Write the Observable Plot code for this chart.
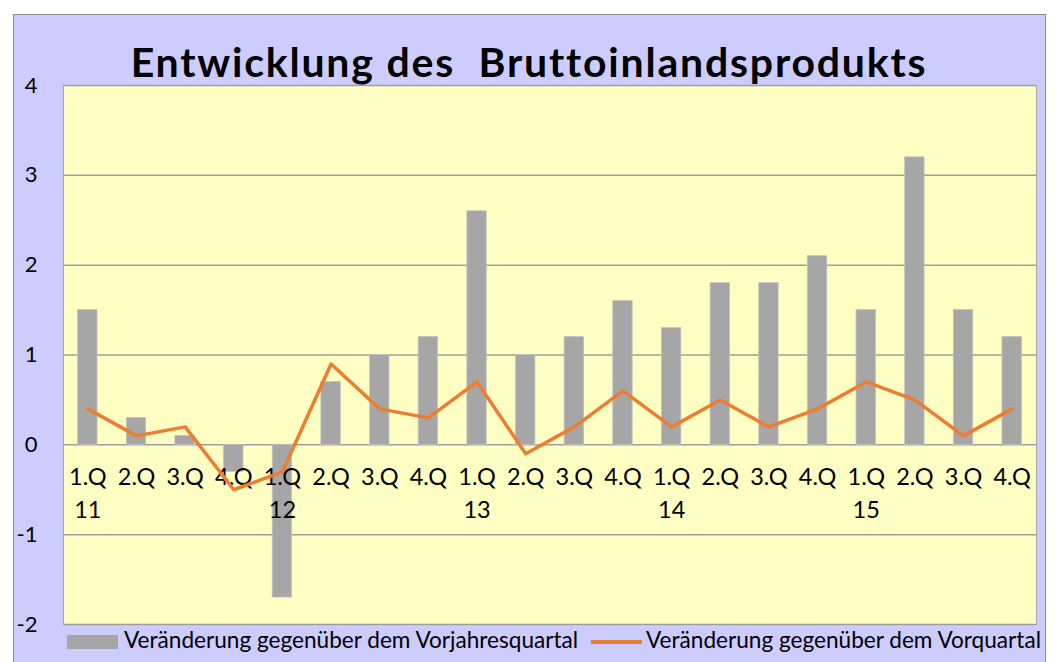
<!DOCTYPE html>
<html>
<head>
<meta charset="utf-8">
<script src="https://cdn.jsdelivr.net/npm/d3@7"></script>
<script src="https://cdn.jsdelivr.net/npm/@observablehq/plot@0.6"></script>
<style>
  html, body { margin: 0; padding: 0; background: #ffffff; }
  body { width: 1056px; height: 662px; position: relative; overflow: hidden; font-family: Lato, "Open Sans", sans-serif; }
  #frame { position: absolute; left: 13px; top: 14px; width: 1033px; height: 660px; background: #ccccff; border: 1px solid #8c8c8c; box-sizing: border-box; }
  #chart { position: absolute; left: 0; top: 0; }
  #title { position: absolute; left: 0; width: 1058px; top: 37px; text-align: center; font-weight: bold; font-size: 41px; letter-spacing: 1.8px; line-height: 50px; white-space: pre; color: #000; }
  .leg { position: absolute; font-size: 22.6px; line-height: 24px; color: #000; white-space: pre; }
  .sw1 { position: absolute; left: 67px; top: 635px; width: 51px; height: 14px; background: #a6a6a6; }
  .sw2 { position: absolute; left: 591px; top: 640px; width: 51px; height: 3.5px; background: #ed7d31; }
</style>
</head>
<body>
<div id="frame"></div>
<div id="chart"></div>
<div id="title">Entwicklung des  Bruttoinlandsprodukts</div>
<div class="sw1"></div>
<div class="leg" id="leg1" style="left:124px; top:628px;">Veränderung gegenüber dem Vorjahresquartal</div>
<div class="sw2"></div>
<div class="leg" id="leg2" style="left:646px; top:628px;">Veränderung gegenüber dem Vorquartal</div>
<script>
const quarters = ["1.Q","2.Q","3.Q","4.Q","1.Q","2.Q","3.Q","4.Q","1.Q","2.Q","3.Q","4.Q","1.Q","2.Q","3.Q","4.Q","1.Q","2.Q","3.Q","4.Q"];
const years    = ["11","","","","12","","","","13","","","","14","","","","15","","",""];
const vorjahresquartal = [1.5, 0.3, 0.1, -0.3, -1.7, 0.7, 1.0, 1.2, 2.6, 1.0, 1.2, 1.6, 1.3, 1.8, 1.8, 2.1, 1.5, 3.2, 1.5, 1.2];
const vorquartal       = [0.4, 0.1, 0.2, -0.5, -0.3, 0.9, 0.4, 0.3, 0.7, -0.1, 0.2, 0.6, 0.2, 0.5, 0.2, 0.4, 0.7, 0.5, 0.1, 0.4];
const yTicks = [-2, -1, 0, 1, 2, 3, 4];

const data = quarters.map((q, i) => ({i, q, year: years[i], bar: vorjahresquartal[i], line: vorquartal[i]}));

const chart = Plot.plot({
  width: 1056,
  height: 662,
  marginLeft: 63,
  marginRight: 20,
  marginTop: 85,
  marginBottom: 38,
  style: {background: "transparent", fontFamily: "Lato, 'Open Sans', sans-serif", fontSize: "22px", color: "#000", overflow: "visible"},
  x: {type: "band", domain: d3.range(quarters.length), paddingInner: 0.6, paddingOuter: 0.3, round: false, axis: null},
  y: {domain: [-2, 4], axis: null},
  marks: [
    Plot.frame({fill: "#ffffc4", stroke: "#a8a8a8", strokeWidth: 1}),
    Plot.ruleY(yTicks, {stroke: "#9e9e9e", strokeWidth: 1.5}),
    Plot.axisY({ticks: yTicks, tickSize: 0, tickPadding: 26, fontSize: 22, label: null, tickFormat: d => String(d)}),
    Plot.barY(data, {x: "i", y: "bar", fill: "#a6a6a6", stroke: "#c4c4c4", strokeWidth: 0.8}),
    Plot.text(data, {x: "i", y: () => 0, text: "q", dy: 33, fontSize: 23.5, fill: "#000"}),
    Plot.text(data, {x: "i", y: () => 0, text: "year", dy: 66, fontSize: 23.5, fill: "#000"}),
    Plot.line(data, {x: "i", y: "line", stroke: "#ed7d31", strokeWidth: 3.5, strokeLinejoin: "round", strokeLinecap: "round"})
  ]
});
document.getElementById("chart").appendChild(chart);
</script>
</body>
</html>
